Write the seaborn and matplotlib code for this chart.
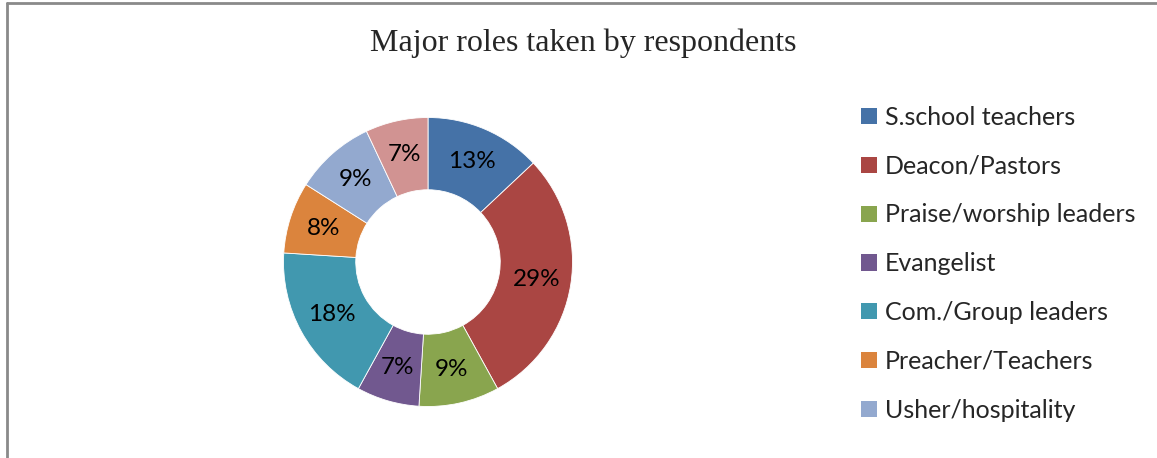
import matplotlib
matplotlib.use("Agg")
import matplotlib.pyplot as plt
from matplotlib.lines import Line2D
from matplotlib.patches import Patch
import seaborn as sns

# Roles and their share of respondents (percent)
roles = [
    "S.school teachers",
    "Deacon/Pastors",
    "Praise/worship leaders",
    "Evangelist",
    "Com./Group leaders",
    "Preacher/Teachers",
    "Usher/hospitality",
    "Others",
]
shares = [13, 29, 9, 7, 18, 8, 9, 7]
colors = ["#4572A7", "#AA4643", "#89A54E", "#71588F",
          "#4198AF", "#DB843D", "#93A9CF", "#D19392"]

sns.set_theme(style="white")
palette = sns.color_palette(colors)
plt.rcParams["font.family"] = ["Lato", "DejaVu Sans"]

W, H = 1157, 458
fig = plt.figure(figsize=(W / 100, H / 100), dpi=100)
fig.patch.set_facecolor("white")

# donut axes: square box in pixels
cx, cy, r_px, half = 428, 262, 144.5, 160
ax = fig.add_axes([(cx - half) / W, (H - cy - half) / H, 2 * half / W, 2 * half / H])
wedges, texts, autotexts = ax.pie(
    shares,
    colors=palette,
    startangle=90,
    counterclock=False,
    radius=1.0,
    wedgeprops=dict(width=0.5, edgecolor="white", linewidth=0.6),
    autopct=lambda p: f"{p:.0f}%",
    pctdistance=0.76,
    textprops=dict(fontsize=17.5, color="black"),
)
lim = half / r_px
ax.set_xlim(-lim, lim)
ax.set_ylim(-lim, lim)
ax.set_aspect("equal")
ax.axis("off")

fig.text(583 / W, 1 - 43 / H, "Major roles taken by respondents",
         ha="center", va="center", fontsize=23,
         family=["Liberation Serif", "DejaVu Serif"])

handles = [Patch(facecolor=c, edgecolor="none") for c in palette[:7]]
fig.legend(handles, roles[:7], loc="upper left",
           bbox_to_anchor=(861 / W, 1 - 106 / H),
           frameon=False, fontsize=18,
           handlelength=0.62, handleheight=0.62, handletextpad=0.33,
           labelspacing=1.03, borderaxespad=0, borderpad=0)

# outer frame (left and top edges visible)
fig.add_artist(Line2D([6.5 / W, 6.5 / W], [0, 1 - 2.5 / H], color="#8a8a8a", lw=2,
                      transform=fig.transFigure))
fig.add_artist(Line2D([6.5 / W, 1], [1 - 2.5 / H, 1 - 2.5 / H], color="#8a8a8a", lw=2,
                      transform=fig.transFigure))

fig.savefig("out.png", dpi=100)
